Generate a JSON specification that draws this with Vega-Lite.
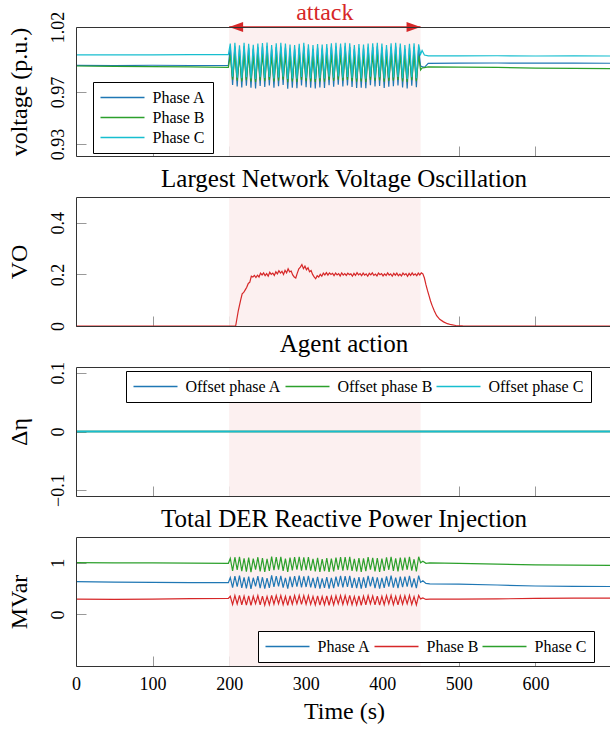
{
"$schema": "https://vega.github.io/schema/vega-lite/v6.json",
"background": "white",
"padding": {"left": 7, "top": 0, "right": 0, "bottom": 0},
"spacing": 41,
"bounds": "flush",
"resolve": {"scale": {"color": "independent", "stroke": "independent", "y": "independent", "x": "independent", "shape": "independent"}, "legend": {"stroke": "independent", "color": "independent"}},
"config": {
  "font": "Liberation Serif",
  "view": {"stroke": "#333333", "strokeWidth": 1},
  "style": {"cell": {"strokeForeground": true}},
  "axis": {"grid": false, "domain": false, "ticks": true, "tickColor": "#999999", "tickSize": -10, "tickWidth": 1, "labelFontSize": 18, "titleFontSize": 24, "labelColor": "black", "titleColor": "black", "titleFontWeight": "normal", "zindex": 1, "labelFlush": false, "labelOverlap": false},
  "axisY": {"labelAngle": -90, "labelAlign": "center", "labelBaseline": "alphabetic", "labelPadding": 22.5, "titlePadding": 18},
  "axisX": {"labelPadding": 19, "titlePadding": 6},
  "title": {"fontSize": 25, "fontWeight": "normal", "color": "black", "offset": 5, "anchor": "middle"},
  "legend": {"labelFontSize": 16, "labelColor": "black", "strokeColor": "black", "fillColor": "white", "padding": 7.5, "symbolType": "M-4.4,0H4.4", "symbolSize": 100, "symbolStrokeWidth": 1.4, "symbolOffset": 14, "labelOffset": 22, "rowPadding": 4, "columnPadding": 1, "cornerRadius": 0, "labelLimit": 0}
},
"datasets": {
  "band": [{"t": 200, "t2": 450}],
  "arrows": [{"t": 200, "dir": "L"}, {"t": 450, "dir": "R"}],
  "ann": [{"t": 325, "label": "attack"}],
  "volt": [
{"t":0,"A":0.9905,"B":0.99,"C":0.9985},
{"t":50,"A":0.9903,"B":0.9897,"C":0.9986},
{"t":100,"A":0.9906,"B":0.9895,"C":0.9985},
{"t":150,"A":0.9904,"B":0.9893,"C":0.9987},
{"t":199,"A":0.9905,"B":0.989,"C":0.9987},
{"t":201.5,"A":1.0043,"B":0.9986,"C":1.0072},
{"t":204.5,"A":0.9755,"B":0.9794,"C":0.9818},
{"t":207.5,"A":1.005,"B":0.9992,"C":1.0078},
{"t":210.5,"A":0.9743,"B":0.9787,"C":0.9811},
{"t":213.5,"A":1.0028,"B":0.9974,"C":1.006},
{"t":216.5,"A":0.9735,"B":0.9782,"C":0.9806},
{"t":219.5,"A":1.0052,"B":0.9993,"C":1.0079},
{"t":222.5,"A":0.9749,"B":0.979,"C":0.9814},
{"t":225.5,"A":1.0041,"B":0.9984,"C":1.007},
{"t":228.5,"A":0.9733,"B":0.9781,"C":0.9805},
{"t":231.5,"A":1.0032,"B":0.9977,"C":1.0063},
{"t":234.5,"A":0.9727,"B":0.9777,"C":0.9801},
{"t":237.5,"A":1.0044,"B":0.9987,"C":1.0073},
{"t":240.5,"A":0.9747,"B":0.9789,"C":0.9813},
{"t":243.5,"A":1.0049,"B":0.999,"C":1.0076},
{"t":246.5,"A":0.9739,"B":0.9784,"C":0.9808},
{"t":249.5,"A":1.0053,"B":0.9994,"C":1.008},
{"t":252.5,"A":0.9751,"B":0.9792,"C":0.9816},
{"t":255.5,"A":1.0029,"B":0.9975,"C":1.0061},
{"t":258.5,"A":0.9733,"B":0.9781,"C":0.9805},
{"t":261.5,"A":1.0046,"B":0.9988,"C":1.0074},
{"t":264.5,"A":0.9745,"B":0.9788,"C":0.9812},
{"t":267.5,"A":1.005,"B":0.9992,"C":1.0078},
{"t":270.5,"A":0.9755,"B":0.9794,"C":0.9818},
{"t":273.5,"A":1.0043,"B":0.9986,"C":1.0072},
{"t":276.5,"A":0.9725,"B":0.9776,"C":0.98},
{"t":279.5,"A":1.0035,"B":0.998,"C":1.0066},
{"t":282.5,"A":0.9733,"B":0.9781,"C":0.9805},
{"t":285.5,"A":1.0029,"B":0.9975,"C":1.0061},
{"t":288.5,"A":0.9729,"B":0.9778,"C":0.9802},
{"t":291.5,"A":1.0041,"B":0.9984,"C":1.007},
{"t":294.5,"A":0.9751,"B":0.9792,"C":0.9816},
{"t":297.5,"A":1.0052,"B":0.9993,"C":1.0079},
{"t":300.5,"A":0.9737,"B":0.9783,"C":0.9807},
{"t":303.5,"A":1.0037,"B":0.9981,"C":1.0067},
{"t":306.5,"A":0.9733,"B":0.9781,"C":0.9805},
{"t":309.5,"A":1.0031,"B":0.9976,"C":1.0062},
{"t":312.5,"A":0.9727,"B":0.9777,"C":0.9801},
{"t":315.5,"A":1.004,"B":0.9983,"C":1.0069},
{"t":318.5,"A":0.9735,"B":0.9782,"C":0.9806},
{"t":321.5,"A":1.0035,"B":0.998,"C":1.0066},
{"t":324.5,"A":0.9731,"B":0.978,"C":0.9804},
{"t":327.5,"A":1.0038,"B":0.9982,"C":1.0068},
{"t":330.5,"A":0.9753,"B":0.9793,"C":0.9817},
{"t":333.5,"A":1.0047,"B":0.9989,"C":1.0075},
{"t":336.5,"A":0.9741,"B":0.9786,"C":0.981},
{"t":339.5,"A":1.005,"B":0.9992,"C":1.0078},
{"t":342.5,"A":0.9757,"B":0.9795,"C":0.9819},
{"t":345.5,"A":1.0044,"B":0.9987,"C":1.0073},
{"t":348.5,"A":0.9743,"B":0.9787,"C":0.9811},
{"t":351.5,"A":1.0052,"B":0.9993,"C":1.0079},
{"t":354.5,"A":0.9751,"B":0.9792,"C":0.9816},
{"t":357.5,"A":1.0046,"B":0.9988,"C":1.0074},
{"t":360.5,"A":0.9739,"B":0.9784,"C":0.9808},
{"t":363.5,"A":1.0031,"B":0.9976,"C":1.0062},
{"t":366.5,"A":0.9731,"B":0.978,"C":0.9804},
{"t":369.5,"A":1.0038,"B":0.9982,"C":1.0068},
{"t":372.5,"A":0.9733,"B":0.9781,"C":0.9805},
{"t":375.5,"A":1.0035,"B":0.998,"C":1.0066},
{"t":378.5,"A":0.9729,"B":0.9778,"C":0.9802},
{"t":381.5,"A":1.0043,"B":0.9986,"C":1.0072},
{"t":384.5,"A":0.9753,"B":0.9793,"C":0.9817},
{"t":387.5,"A":1.0046,"B":0.9988,"C":1.0074},
{"t":390.5,"A":0.9743,"B":0.9787,"C":0.9811},
{"t":393.5,"A":1.0052,"B":0.9993,"C":1.0079},
{"t":396.5,"A":0.9747,"B":0.9789,"C":0.9813},
{"t":399.5,"A":1.0044,"B":0.9987,"C":1.0073},
{"t":402.5,"A":0.9731,"B":0.978,"C":0.9804},
{"t":405.5,"A":1.0029,"B":0.9975,"C":1.0061},
{"t":408.5,"A":0.9741,"B":0.9786,"C":0.981},
{"t":411.5,"A":1.0047,"B":0.9989,"C":1.0075},
{"t":414.5,"A":0.9745,"B":0.9788,"C":0.9812},
{"t":417.5,"A":1.005,"B":0.9992,"C":1.0078},
{"t":420.5,"A":0.9751,"B":0.9792,"C":0.9816},
{"t":423.5,"A":1.0043,"B":0.9986,"C":1.0072},
{"t":426.5,"A":0.9735,"B":0.9782,"C":0.9806},
{"t":429.5,"A":1.0031,"B":0.9976,"C":1.0062},
{"t":432.5,"A":0.9727,"B":0.9777,"C":0.9801},
{"t":435.5,"A":1.0041,"B":0.9984,"C":1.007},
{"t":438.5,"A":0.9749,"B":0.979,"C":0.9814},
{"t":441.5,"A":1.0047,"B":0.9989,"C":1.0075},
{"t":444.5,"A":0.9737,"B":0.9783,"C":0.9807},
{"t":447.5,"A":1.0037,"B":0.9981,"C":1.0067},
{"t":450,"A":0.99,"B":0.987,"C":0.999},
{"t":452,"A":0.9895,"B":0.9885,"C":1.002},
{"t":455,"A":0.989,"B":0.9888,"C":0.9985},
{"t":460,"A":0.992,"B":0.9893,"C":0.9978},
{"t":500,"A":0.9922,"B":0.9892,"C":0.9978},
{"t":550,"A":0.9923,"B":0.9889,"C":0.9979},
{"t":600,"A":0.9922,"B":0.9884,"C":0.9977},
{"t":650,"A":0.9922,"B":0.9882,"C":0.9978},
{"t":700,"A":0.9921,"B":0.988,"C":0.9977}
  ],
  "vo": [
{"t":0,"vo":0},{"t":100,"vo":0},{"t":205,"vo":0},{"t":208.5,"vo":0},{"t":212,"vo":0.06},{"t":215,"vo":0.1},{"t":217,"vo":0.125},{"t":219,"vo":0.13},{"t":221,"vo":0.14},{"t":223,"vo":0.15},{"t":225,"vo":0.165},{"t":227,"vo":0.17},{"t":229,"vo":0.193},{"t":231,"vo":0.19},{"t":233,"vo":0.196},
{"t":235,"vo":0.188},{"t":237,"vo":0.197},{"t":239,"vo":0.19},{"t":241,"vo":0.205},{"t":243,"vo":0.198},{"t":245,"vo":0.206},{"t":247,"vo":0.195},{"t":249,"vo":0.203},{"t":251,"vo":0.193},{"t":253,"vo":0.208},{"t":255,"vo":0.2},{"t":257,"vo":0.205},{"t":259,"vo":0.196},{"t":261,"vo":0.21},{"t":263,"vo":0.202},{"t":265,"vo":0.214},{"t":267,"vo":0.205},{"t":269,"vo":0.212},{"t":271,"vo":0.2},{"t":273,"vo":0.216},{"t":275,"vo":0.206},{"t":277,"vo":0.222},{"t":279,"vo":0.21},{"t":281,"vo":0.213},{"t":283,"vo":0.198},{"t":285,"vo":0.19},{"t":287,"vo":0.186},{"t":289,"vo":0.205},{"t":291,"vo":0.222},{"t":293,"vo":0.228},{"t":295,"vo":0.238},{"t":297,"vo":0.222},{"t":299,"vo":0.232},{"t":301,"vo":0.218},{"t":303,"vo":0.226},{"t":305,"vo":0.21},{"t":307,"vo":0.215},{"t":309,"vo":0.2},{"t":311,"vo":0.19},{"t":313,"vo":0.183},{"t":315,"vo":0.195},{"t":317,"vo":0.19},{"t":319,"vo":0.2},{"t":321,"vo":0.193},{"t":323,"vo":0.205},{"t":325,"vo":0.198},{"t":327,"vo":0.207},{"t":329,"vo":0.197},{"t":331,"vo":0.206},{"t":333,"vo":0.2},{"t":335,"vo":0.204},{"t":337,"vo":0.195},{"t":339,"vo":0.205},{"t":341,"vo":0.198},{"t":343,"vo":0.203},{"t":345,"vo":0.194},{"t":347,"vo":0.206},{"t":349,"vo":0.197},{"t":351,"vo":0.203},{"t":353,"vo":0.196},{"t":355,"vo":0.205},{"t":357,"vo":0.199},{"t":359,"vo":0.202},{"t":361,"vo":0.193},{"t":363,"vo":0.204},{"t":365,"vo":0.196},{"t":367,"vo":0.207},{"t":369,"vo":0.198},{"t":371,"vo":0.203},{"t":373,"vo":0.195},{"t":375,"vo":0.205},{"t":377,"vo":0.197},{"t":379,"vo":0.202},{"t":381,"vo":0.193},{"t":383,"vo":0.204},{"t":385,"vo":0.198},{"t":387,"vo":0.206},{"t":389,"vo":0.196},{"t":391,"vo":0.201},{"t":393,"vo":0.194},{"t":395,"vo":0.205},{"t":397,"vo":0.199},{"t":399,"vo":0.203},{"t":401,"vo":0.194},{"t":403,"vo":0.202},{"t":405,"vo":0.196},{"t":407,"vo":0.206},{"t":409,"vo":0.197},{"t":411,"vo":0.202},{"t":413,"vo":0.193},{"t":415,"vo":0.204},{"t":417,"vo":0.197},{"t":419,"vo":0.205},{"t":421,"vo":0.195},{"t":423,"vo":0.201},{"t":425,"vo":0.194},{"t":427,"vo":0.205},{"t":429,"vo":0.198},{"t":431,"vo":0.203},{"t":433,"vo":0.193},{"t":435,"vo":0.204},{"t":437,"vo":0.196},{"t":439,"vo":0.206},{"t":441,"vo":0.197},{"t":443,"vo":0.202},{"t":445,"vo":0.195},{"t":447,"vo":0.205},{"t":449,"vo":0.198},{"t":451,"vo":0.206},{"t":453,"vo":0.202},{"t":455,"vo":0.186},{"t":457,"vo":0.16},{"t":459,"vo":0.138},{"t":461,"vo":0.118},{"t":463,"vo":0.097},{"t":465,"vo":0.08},{"t":468,"vo":0.058},{"t":471,"vo":0.04},{"t":475,"vo":0.026},{"t":480,"vo":0.016},{"t":485,"vo":0.009},{"t":490,"vo":0.005},{"t":496,"vo":0.002},{"t":505,"vo":0.0005},{"t":520,"vo":0},{"t":600,"vo":0},{"t":700,"vo":0}
  ],
  "act": [{"t":0,"A":0,"B":0,"C":0},{"t":700,"A":0,"B":0,"C":0}],
  "q": [
{"t":0,"A":0.635,"B":0.295,"C":1.005},
{"t":50,"A":0.625,"B":0.29,"C":1.0},
{"t":100,"A":0.62,"B":0.295,"C":1.0},
{"t":150,"A":0.615,"B":0.305,"C":0.995},
{"t":199,"A":0.615,"B":0.31,"C":0.99},
{"t":201.5,"A":0.713,"B":0.352,"C":1.084},
{"t":204.5,"A":0.519,"B":0.191,"C":0.844},
{"t":207.5,"A":0.741,"B":0.364,"C":1.108},
{"t":210.5,"A":0.537,"B":0.203,"C":0.862},
{"t":213.5,"A":0.752,"B":0.369,"C":1.117},
{"t":216.5,"A":0.513,"B":0.187,"C":0.838},
{"t":219.5,"A":0.717,"B":0.354,"C":1.087},
{"t":222.5,"A":0.504,"B":0.181,"C":0.829},
{"t":225.5,"A":0.731,"B":0.36,"C":1.099},
{"t":228.5,"A":0.495,"B":0.175,"C":0.82},
{"t":231.5,"A":0.71,"B":0.351,"C":1.081},
{"t":234.5,"A":0.543,"B":0.207,"C":0.868},
{"t":237.5,"A":0.741,"B":0.364,"C":1.108},
{"t":240.5,"A":0.51,"B":0.185,"C":0.835},
{"t":243.5,"A":0.72,"B":0.355,"C":1.09},
{"t":246.5,"A":0.501,"B":0.179,"C":0.826},
{"t":249.5,"A":0.703,"B":0.348,"C":1.075},
{"t":252.5,"A":0.516,"B":0.189,"C":0.841},
{"t":255.5,"A":0.755,"B":0.37,"C":1.12},
{"t":258.5,"A":0.531,"B":0.199,"C":0.856},
{"t":261.5,"A":0.741,"B":0.364,"C":1.108},
{"t":264.5,"A":0.543,"B":0.207,"C":0.868},
{"t":267.5,"A":0.748,"B":0.367,"C":1.114},
{"t":270.5,"A":0.519,"B":0.191,"C":0.844},
{"t":273.5,"A":0.71,"B":0.351,"C":1.081},
{"t":276.5,"A":0.498,"B":0.177,"C":0.823},
{"t":279.5,"A":0.734,"B":0.361,"C":1.102},
{"t":282.5,"A":0.528,"B":0.197,"C":0.853},
{"t":285.5,"A":0.741,"B":0.364,"C":1.108},
{"t":288.5,"A":0.54,"B":0.205,"C":0.865},
{"t":291.5,"A":0.752,"B":0.369,"C":1.117},
{"t":294.5,"A":0.522,"B":0.193,"C":0.847},
{"t":297.5,"A":0.738,"B":0.363,"C":1.105},
{"t":300.5,"A":0.531,"B":0.199,"C":0.856},
{"t":303.5,"A":0.745,"B":0.366,"C":1.111},
{"t":306.5,"A":0.525,"B":0.195,"C":0.85},
{"t":309.5,"A":0.706,"B":0.349,"C":1.078},
{"t":312.5,"A":0.507,"B":0.183,"C":0.832},
{"t":315.5,"A":0.727,"B":0.358,"C":1.096},
{"t":318.5,"A":0.501,"B":0.179,"C":0.826},
{"t":321.5,"A":0.699,"B":0.346,"C":1.072},
{"t":324.5,"A":0.513,"B":0.187,"C":0.838},
{"t":327.5,"A":0.724,"B":0.357,"C":1.093},
{"t":330.5,"A":0.498,"B":0.177,"C":0.823},
{"t":333.5,"A":0.71,"B":0.351,"C":1.081},
{"t":336.5,"A":0.51,"B":0.185,"C":0.835},
{"t":339.5,"A":0.731,"B":0.36,"C":1.099},
{"t":342.5,"A":0.54,"B":0.205,"C":0.865},
{"t":345.5,"A":0.745,"B":0.366,"C":1.111},
{"t":348.5,"A":0.525,"B":0.195,"C":0.85},
{"t":351.5,"A":0.741,"B":0.364,"C":1.108},
{"t":354.5,"A":0.531,"B":0.199,"C":0.856},
{"t":357.5,"A":0.748,"B":0.367,"C":1.114},
{"t":360.5,"A":0.516,"B":0.189,"C":0.841},
{"t":363.5,"A":0.706,"B":0.349,"C":1.078},
{"t":366.5,"A":0.51,"B":0.185,"C":0.835},
{"t":369.5,"A":0.724,"B":0.357,"C":1.093},
{"t":372.5,"A":0.498,"B":0.177,"C":0.823},
{"t":375.5,"A":0.717,"B":0.354,"C":1.087},
{"t":378.5,"A":0.513,"B":0.187,"C":0.838},
{"t":381.5,"A":0.745,"B":0.366,"C":1.111},
{"t":384.5,"A":0.543,"B":0.207,"C":0.868},
{"t":387.5,"A":0.727,"B":0.358,"C":1.096},
{"t":390.5,"A":0.507,"B":0.183,"C":0.832},
{"t":393.5,"A":0.72,"B":0.355,"C":1.09},
{"t":396.5,"A":0.501,"B":0.179,"C":0.826},
{"t":399.5,"A":0.71,"B":0.351,"C":1.081},
{"t":402.5,"A":0.516,"B":0.189,"C":0.841},
{"t":405.5,"A":0.738,"B":0.363,"C":1.105},
{"t":408.5,"A":0.54,"B":0.205,"C":0.865},
{"t":411.5,"A":0.752,"B":0.369,"C":1.117},
{"t":414.5,"A":0.519,"B":0.191,"C":0.844},
{"t":417.5,"A":0.713,"B":0.352,"C":1.084},
{"t":420.5,"A":0.507,"B":0.183,"C":0.832},
{"t":423.5,"A":0.734,"B":0.361,"C":1.102},
{"t":426.5,"A":0.528,"B":0.197,"C":0.853},
{"t":429.5,"A":0.731,"B":0.36,"C":1.099},
{"t":432.5,"A":0.54,"B":0.205,"C":0.865},
{"t":435.5,"A":0.748,"B":0.367,"C":1.114},
{"t":438.5,"A":0.522,"B":0.193,"C":0.847},
{"t":441.5,"A":0.696,"B":0.345,"C":1.069},
{"t":444.5,"A":0.51,"B":0.185,"C":0.835},
{"t":447.5,"A":0.752,"B":0.369,"C":1.117},
{"t":450,"A":0.62,"B":0.3,"C":1.0},
{"t":453,"A":0.65,"B":0.32,"C":1.03},
{"t":457,"A":0.6,"B":0.29,"C":0.99},
{"t":462,"A":0.59,"B":0.295,"C":1.0},
{"t":500,"A":0.585,"B":0.295,"C":0.99},
{"t":550,"A":0.57,"B":0.3,"C":0.975},
{"t":600,"A":0.55,"B":0.31,"C":0.96},
{"t":650,"A":0.545,"B":0.315,"C":0.955},
{"t":700,"A":0.54,"B":0.315,"C":0.95}
  ]
},
"vconcat": [
  {
    "width": 536, "height": 129,
    "encoding": {"x": {"field": "t", "type": "quantitative", "scale": {"domain": [0, 700], "nice": false, "zero": false}, "axis": {"values": [0,100,200,300,400,500,600], "labels": false, "title": null}}},
    "layer": [
      {"data": {"name": "band"}, "mark": {"type": "rect", "color": "#fcf0f0"}, "encoding": {"x2": {"field": "t2"}}},
      {"data": {"name": "volt"}, "transform": [{"fold": ["A", "B", "C"], "as": ["phase", "v"]}],
       "mark": {"type": "line", "strokeWidth": 1.2},
       "encoding": {
         "y": {"field": "v", "type": "quantitative", "scale": {"domain": [0.9208, 1.02], "nice": false, "zero": false}, "axis": {"title": "voltage (p.u.)", "values": [0.93, 0.97, 1.02], "format": ".2f"}},
         "stroke": {"field": "phase", "type": "nominal", "scale": {"domain": ["A", "B", "C"], "range": ["#1f77b4", "#2ca02c", "#17becf"]},
                   "legend": {"orient": "none", "legendX": 17, "legendY": 55, "direction": "vertical", "title": null, "labelExpr": "'Phase ' + datum.label"}}
       }},
      {"data": {"name": "band"}, "mark": {"type": "rule", "color": "#d62728", "strokeWidth": 1.5}, "encoding": {"x2": {"field": "t2"}, "y": {"datum": 1.02}}},
      {"data": {"name": "arrows"}, "mark": {"type": "point", "filled": true, "color": "#d62728", "size": 196, "opacity": 1, "strokeWidth": 0},
       "encoding": {"y": {"datum": 1.02}, "shape": {"field": "dir", "type": "nominal", "scale": {"domain": ["L", "R"], "range": ["M0,0L2,-0.7L2,0.7Z", "M0,0L-2,-0.7L-2,0.7Z"]}, "legend": null}}},
      {"data": {"name": "ann"}, "mark": {"type": "text", "color": "#d62728", "fontSize": 24, "dy": -7, "baseline": "alphabetic", "align": "center"},
       "encoding": {"y": {"datum": 1.02}, "text": {"field": "label"}}}
    ]
  },
  {
    "width": 536, "height": 129,
    "title": "Largest Network Voltage Oscillation",
    "encoding": {"x": {"field": "t", "type": "quantitative", "scale": {"domain": [0, 700], "nice": false, "zero": false}, "axis": {"values": [0,100,200,300,400,500,600], "labels": false, "title": null}}},
    "layer": [
      {"data": {"name": "band"}, "mark": {"type": "rect", "color": "#fcf0f0"}, "encoding": {"x2": {"field": "t2"}}},
      {"data": {"name": "vo"}, "mark": {"type": "line", "strokeWidth": 1.2, "color": "#d62728"},
       "encoding": {"y": {"field": "vo", "type": "quantitative", "scale": {"domain": [0, 0.5], "nice": false}, "axis": {"title": "VO", "values": [0, 0.2, 0.4], "format": "~g"}}}}
    ]
  },
  {
    "width": 536, "height": 129,
    "title": "Agent action",
    "encoding": {"x": {"field": "t", "type": "quantitative", "scale": {"domain": [0, 700], "nice": false, "zero": false}, "axis": {"values": [0,100,200,300,400,500,600], "labels": false, "title": null}}},
    "layer": [
      {"data": {"name": "band"}, "mark": {"type": "rect", "color": "#fcf0f0"}, "encoding": {"x2": {"field": "t2"}}},
      {"data": {"name": "act"}, "transform": [{"fold": ["A", "B", "C"], "as": ["phase", "v"]}],
       "mark": {"type": "line", "strokeWidth": 1.5},
       "encoding": {
         "y": {"field": "v", "type": "quantitative", "scale": {"domain": [-0.11, 0.11], "nice": false, "zero": false}, "axis": {"title": "Δη", "values": [-0.1, 0, 0.1], "format": "~g"}},
         "stroke": {"field": "phase", "type": "nominal", "scale": {"domain": ["A", "B", "C"], "range": ["#1f77b4", "#2ca02c", "#17becf"]},
                   "legend": {"orient": "none", "legendX": 50, "legendY": 4, "direction": "horizontal", "title": null, "labelExpr": "'Offset phase ' + datum.label"}}
       }}
    ]
  },
  {
    "width": 536, "height": 129,
    "title": "Total DER Reactive Power Injection",
    "encoding": {"x": {"field": "t", "type": "quantitative", "scale": {"domain": [0, 700], "nice": false, "zero": false}, "axis": {"values": [0,100,200,300,400,500,600], "title": "Time (s)"}}},
    "layer": [
      {"data": {"name": "band"}, "mark": {"type": "rect", "color": "#fcf0f0"}, "encoding": {"x2": {"field": "t2"}}},
      {"data": {"name": "q"}, "transform": [{"fold": ["A", "B", "C"], "as": ["phase", "v"]}],
       "mark": {"type": "line", "strokeWidth": 1.2},
       "encoding": {
         "y": {"field": "v", "type": "quantitative", "scale": {"domain": [-1, 1.5], "nice": false, "zero": false}, "axis": {"title": "MVar", "values": [0, 1]}},
         "stroke": {"field": "phase", "type": "nominal", "scale": {"domain": ["A", "B", "C"], "range": ["#1f77b4", "#d62728", "#2ca02c"]},
                   "legend": {"orient": "none", "legendX": 182, "legendY": 94, "direction": "horizontal", "title": null, "labelExpr": "'Phase ' + datum.label"}}
       }}
    ]
  }
]
}
